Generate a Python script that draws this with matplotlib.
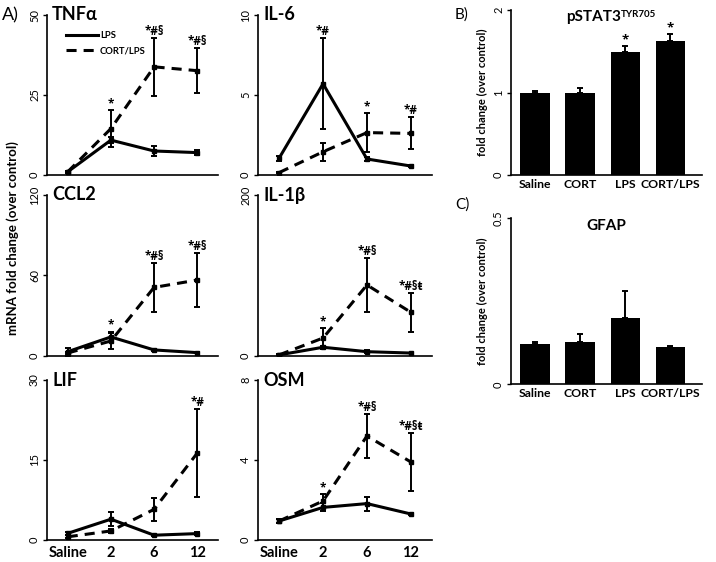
import matplotlib
matplotlib.use('Agg')

import matplotlib.pyplot as plt
import numpy as np
from matplotlib.lines import Line2D

plt.rcParams['font.family'] = ['Lato', 'DejaVu Sans']

# ---------------------------
# DATA
# ---------------------------
times = ['Saline', '2', '6', '12']

tnf_lps = [1.0, 10.9, 7.5, 7.0]
tnf_lps_err = [0.3, 1.0, 1.5, 0.7]
tnf_cort = [1.0, 14.5, 33.8, 32.6]
tnf_cort_err = [0.3, 5.8, 9.0, 7.0]

il6_lps = [1.05, 5.7, 1.0, 0.56]
il6_lps_err = [0.15, 2.85, 0.1, 0.05]
il6_cort = [0.15, 1.45, 2.65, 2.6]
il6_cort_err = [0.05, 0.55, 1.2, 1.0]

ccl2_lps = [3.0, 14.0, 4.3, 2.3]
ccl2_lps_err = [3.0, 4.0, 0.8, 0.5]
ccl2_cort = [2.0, 11.0, 51.0, 56.5]
ccl2_cort_err = [1.0, 6.0, 18.0, 20.0]

il1b_lps = [1.0, 10.5, 5.0, 3.3]
il1b_lps_err = [0.5, 2.0, 1.5, 0.5]
il1b_cort = [1.0, 22.0, 88.0, 54.0]
il1b_cort_err = [0.5, 12.0, 34.0, 24.0]

lif_lps = [1.25, 3.9, 0.9, 1.2]
lif_lps_err = [0.3, 1.3, 0.1, 0.3]
lif_cort = [0.6, 1.7, 5.75, 16.3]
lif_cort_err = [0.3, 0.4, 2.2, 8.3]

osm_lps = [0.95, 1.63, 1.82, 1.3]
osm_lps_err = [0.1, 0.2, 0.35, 0.05]
osm_cort = [0.95, 1.95, 5.2, 3.9]
osm_cort_err = [0.1, 0.35, 1.1, 1.45]

groups = ['Saline', 'CORT', 'LPS', 'CORT/LPS']
pstat3 = [1.0, 1.0, 1.487, 1.628]
pstat3_err = [0.02, 0.05, 0.077, 0.077]
pstat3_sig = ['', '', '*', '*']

gfap = [0.120, 0.128, 0.199, 0.113]
gfap_err = [0.007, 0.025, 0.082, 0.002]

panels = [
    ('TNF\u03b1', tnf_lps, tnf_lps_err, tnf_cort, tnf_cort_err, 50, [0, 25, 50],
     ['', '*', '*#§', '*#§']),
    ('IL-6', il6_lps, il6_lps_err, il6_cort, il6_cort_err, 10, [0, 5, 10],
     ['', '*#', '*', '*#']),
    ('CCL2', ccl2_lps, ccl2_lps_err, ccl2_cort, ccl2_cort_err, 120, [0, 60, 120],
     ['', '*', '*#§', '*#§']),
    ('IL-1\u03b2', il1b_lps, il1b_lps_err, il1b_cort, il1b_cort_err, 200, [0, 200],
     ['', '*', '*#§', '*#§ŧ']),
    ('LIF', lif_lps, lif_lps_err, lif_cort, lif_cort_err, 30, [0, 15, 30],
     ['', '', '', '*#']),
    ('OSM', osm_lps, osm_lps_err, osm_cort, osm_cort_err, 8, [0, 4, 8],
     ['', '*', '*#§', '*#§ŧ']),
]

SIG_FONT = ['Open Sans', 'DejaVu Sans']
DASH = (3.3, 2.3)

# ---------------------------
# FIGURE
# ---------------------------
W, H = 716, 562
fig = plt.figure(figsize=(W / 100, H / 100), dpi=100)

def px_axes(left, top, right, bottom):
    return fig.add_axes([left / W, 1 - bottom / H, (right - left) / W, (bottom - top) / H])

def clean(ax):
    ax.spines['top'].set_visible(False)
    ax.spines['right'].set_visible(False)
    ax.spines['left'].set_linewidth(1.2)
    ax.spines['bottom'].set_linewidth(1.2)
    ax.tick_params(axis='y', length=3, width=1, pad=2)

cols = [(47, 218), (258, 432)]
rows = [(15, 175), (195, 355.7), (380, 540)]

x = np.arange(len(times))

for i, (name, lps, lps_err, cort, cort_err, ymax, yticks, sig) in enumerate(panels):
    r, c = divmod(i, 2)
    ax = px_axes(cols[c][0], rows[r][0], cols[c][1], rows[r][1])

    ax.errorbar(x, lps, yerr=lps_err, color='black', lw=2.2, elinewidth=1.4,
                capsize=2.5, capthick=1.4, marker='s', ms=2.5)
    ax.errorbar(x, cort, yerr=cort_err, color='black', lw=2.2, elinewidth=1.4,
                capsize=2.5, capthick=1.4, marker='s', ms=2.5, dashes=DASH)

    for j, s in enumerate(sig):
        if s:
            top = max(lps[j] + lps_err[j], cort[j] + cort_err[j])
            ax.annotate(s, (x[j], top), xytext=(0, 0), textcoords='offset points',
                        ha='center', va='bottom', fontsize=8.5, fontweight='bold',
                        family=SIG_FONT)

    ax.set_xlim(-0.48, 3.48)
    ax.set_ylim(0, ymax)
    ax.set_yticks(yticks)
    ax.set_yticklabels([str(t) for t in yticks], rotation=90, va='center', fontsize=8)
    ax.tick_params(axis='x', length=0, pad=4)
    clean(ax)
    ax.set_xticks(x)
    if r == 2:
        ax.set_xticklabels(times, fontsize=10.5, fontweight='bold')
    else:
        ax.set_xticklabels([])

    ax.text(0.03, 1.0, name, transform=ax.transAxes, ha='left', va='center',
            fontsize=13, fontweight='bold')

    if i == 0:
        handles = [Line2D([], [], color='black', lw=2.2),
                   Line2D([], [], color='black', lw=2.2, dashes=DASH)]
        ax.legend(handles, ['LPS', 'CORT/LPS'], loc='upper left',
                  bbox_to_anchor=(0.06, 0.95), frameon=False, handlelength=3.4,
                  handletextpad=0.2, labelspacing=0.6,
                  prop={'weight': 'bold', 'size': 6.8})

fig.text(13 / W, 1 - 238 / H, 'mRNA fold change (over control)', rotation=90,
         ha='center', va='center', fontsize=9.5, fontweight='bold')
fig.text(2 / W, 1 - 15 / H, 'A)', ha='left', va='center', fontsize=13)

# ---------------------------
# BAR PANELS
# ---------------------------
xb = np.arange(len(groups))

def bar_panel(top, bottom, vals, errs, ymax, yticks):
    ax = px_axes(511, top, 702, bottom)
    ax.bar(xb, vals, width=0.65, color='black')
    ax.errorbar(xb, vals, yerr=[np.zeros(len(vals)), errs], fmt='none', ecolor='black',
                elinewidth=1.4, capsize=2.5, capthick=1.4)
    ax.set_xlim(-0.53, 3.7)
    ax.set_ylim(0, ymax)
    ax.set_yticks(yticks)
    ax.set_yticklabels([str(t) for t in yticks], rotation=90, va='center', fontsize=8)
    ax.tick_params(axis='x', length=0, pad=3)
    ax.set_xticks(xb)
    ax.set_xticklabels(groups, fontsize=8.8, fontweight='bold')
    clean(ax)
    ax.set_ylabel('fold change (over control)', fontsize=8, fontweight='bold', labelpad=4)
    return ax

axb = bar_panel(10, 175, pstat3, pstat3_err, 2, [0, 1, 2])
for j, s in enumerate(pstat3_sig):
    if s:
        axb.annotate(s, (xb[j], pstat3[j] + pstat3_err[j]), xytext=(0, 0),
                     textcoords='offset points', ha='center', va='bottom',
                     fontsize=9.5, fontweight='bold', family=SIG_FONT)
t = axb.text(0.576, 0.96, 'pSTAT3', transform=axb.transAxes, ha='right', va='center',
             fontsize=11, fontweight='bold')
axb.annotate('TYR705', xy=(1, 1), xycoords=t, ha='left', va='top',
             fontsize=7, fontweight='bold')

axc = bar_panel(218.3, 384.3, gfap, gfap_err, 0.5, [0, 0.5])
axc.text(0.5, 0.955, 'GFAP', transform=axc.transAxes, ha='center', va='center',
         fontsize=11, fontweight='bold')

fig.text(455 / W, 1 - 15 / H, 'B)', ha='left', va='center', fontsize=11)
fig.text(455 / W, 1 - 205 / H, 'C)', ha='left', va='center', fontsize=11)

fig.savefig('out.png', dpi=100)
